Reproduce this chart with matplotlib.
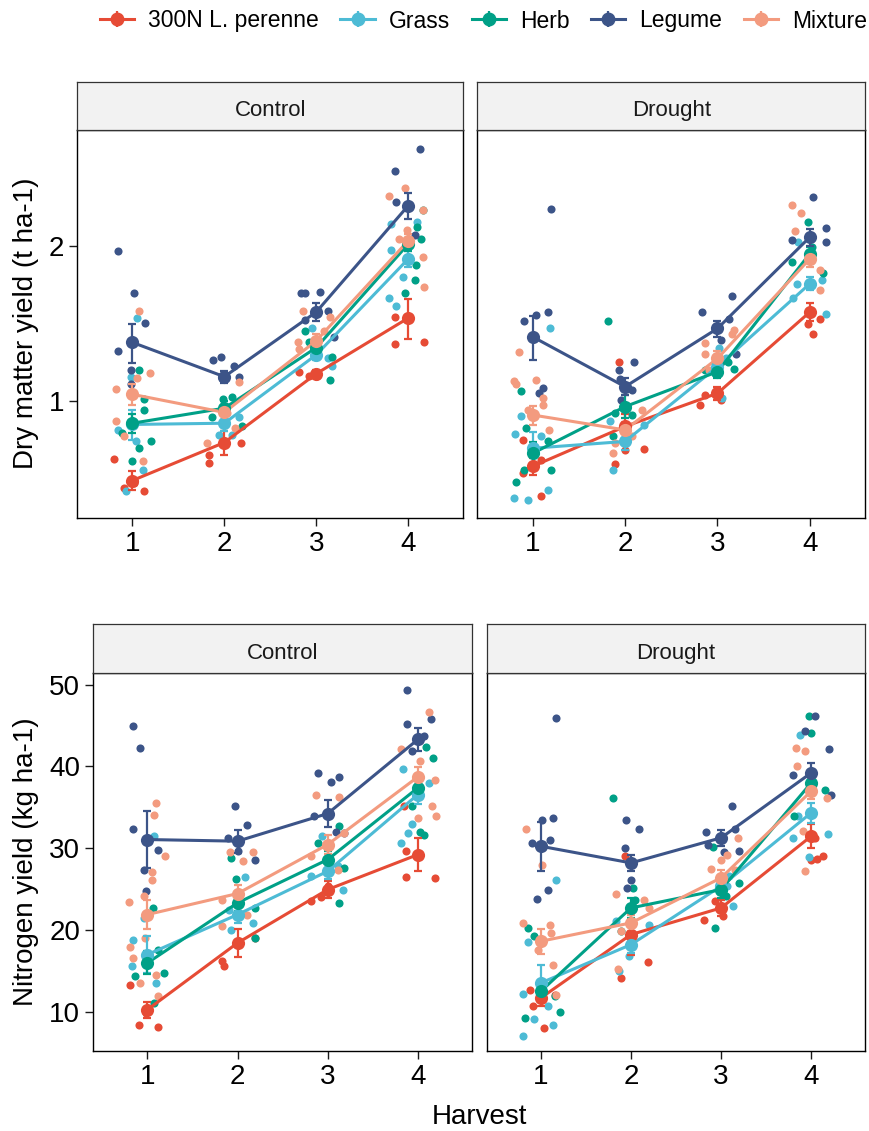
import matplotlib.pyplot as plt
from matplotlib.lines import Line2D
from matplotlib.legend_handler import HandlerTuple

plt.rcParams["font.family"] = ["Liberation Sans", "DejaVu Sans"]

GROUPS = ["300N L. perenne", "Grass", "Herb", "Legume", "Mixture"]
COLORS = {
    "300N L. perenne": "#E64B35",
    "Grass": "#4DBBD5",
    "Herb": "#00A087",
    "Legume": "#3C5488",
    "Mixture": "#F39B7F",
}
HARVESTS = [1, 2, 3, 4]

# ---- dry matter yield (t ha-1): treatment means and standard errors
DM_CONTROL_MEAN = {
    "300N L. perenne": [0.70, 0.83, 1.13, 1.45],
    "Grass": [0.90, 0.905, 1.23, 1.89],
    "Herb": [0.905, 0.968, 1.27, 2.02],
    "Legume": [1.30, 1.115, 1.49, 2.40],
    "Mixture": [1.03, 0.95, 1.31, 2.05],
}
DM_CONTROL_SE = {
    "300N L. perenne": [0.03, 0.045, 0.02, 0.13],
    "Grass": [0.06, 0.03, 0.03, 0.07],
    "Herb": [0.04, 0.03, 0.03, 0.06],
    "Legume": [0.115, 0.03, 0.06, 0.14],
    "Mixture": [0.05, 0.03, 0.04, 0.06],
}
DM_DROUGHT_MEAN = {
    "300N L. perenne": [0.746, 0.892, 1.035, 1.49],
    "Grass": [0.809, 0.834, 1.166, 1.692],
    "Herb": [0.791, 0.975, 1.14, 1.936],
    "Legume": [1.333, 1.066, 1.384, 2.085],
    "Mixture": [0.939, 0.878, 1.21, 1.892],
}
DM_DROUGHT_SE = {
    "300N L. perenne": [0.03, 0.05, 0.03, 0.06],
    "Grass": [0.06, 0.03, 0.03, 0.05],
    "Herb": [0.04, 0.05, 0.03, 0.06],
    "Legume": [0.13, 0.04, 0.05, 0.08],
    "Mixture": [0.04, 0.03, 0.04, 0.07],
}

# ---- nitrogen yield (kg ha-1): treatment means and standard errors
N_CONTROL_MEAN = {
    "300N L. perenne": [10.24, 18.41, 24.94, 29.22],
    "Grass": [16.98, 21.88, 27.18, 36.57],
    "Herb": [15.96, 23.31, 28.61, 37.39],
    "Legume": [31.06, 30.86, 34.24, 43.31],
    "Mixture": [21.88, 24.45, 30.45, 38.73],
}
N_CONTROL_SE = {
    "300N L. perenne": [1.0, 1.7, 1.0, 2.0],
    "Grass": [2.3, 1.0, 1.0, 1.2],
    "Herb": [1.4, 1.0, 1.0, 1.0],
    "Legume": [3.5, 1.4, 1.6, 1.4],
    "Mixture": [1.8, 1.0, 1.2, 1.2],
}
N_DROUGHT_MEAN = {
    "300N L. perenne": [11.67, 19.43, 22.69, 31.47],
    "Grass": [13.51, 18.20, 25.35, 34.33],
    "Herb": [12.49, 22.69, 24.94, 38.0],
    "Legume": [30.24, 28.20, 31.27, 39.22],
    "Mixture": [18.61, 20.86, 26.37, 36.98],
}
N_DROUGHT_SE = {
    "300N L. perenne": [1.0, 2.5, 1.0, 1.5],
    "Grass": [2.2, 1.0, 1.0, 1.2],
    "Herb": [1.2, 1.2, 1.0, 1.2],
    "Legume": [3.0, 1.0, 1.0, 1.2],
    "Mixture": [1.5, 1.0, 1.0, 1.0],
}

# ---- individual plots: per harvest, (jitter, value)
DM_CONTROL_PTS = {
    "300N L. perenne": [
        [(-0.20, 0.77), (-0.09, 0.677), (0.13, 0.667), (0.02, 0.692)],
        [(-0.17, 0.757), (-0.17, 0.785), (0.18, 0.828)],
        [(-0.19, 1.14), (-0.08, 1.12), (0.01, 1.12)],
        [(-0.14, 1.46), (0.17, 1.30), (-0.14, 1.29)]],
    "Grass": [
        [(0.05, 1.45), (-0.02, 1.115), (-0.16, 0.878), (0.04, 0.834), (0.11, 0.735), (-0.07, 0.667)],
        [(-0.06, 0.859), (0.16, 0.93), (0.08, 0.859)],
        [(-0.05, 1.39), (0.17, 1.17), (0.13, 1.21), (-0.01, 1.22)],
        [(-0.19, 2.21), (0.10, 2.23), (-0.21, 1.59), (-0.13, 1.53), (-0.06, 1.74), (-0.19, 1.965)]],
    "Herb": [
        [(0.07, 1.15), (0.13, 1.01), (0.13, 0.96), (0.20, 0.834), (0.07, 0.809), (0.0, 0.763), (-0.11, 0.865)],
        [(-0.01, 1.01), (0.08, 1.02), (0.19, 0.892), (-0.13, 0.932)],
        [(-0.12, 1.37), (-0.08, 1.30), (0.15, 1.10), (0.17, 1.22)],
        [(-0.03, 1.62), (0.07, 1.72), (0.08, 1.84), (0.14, 2.07), (0.10, 2.18), (0.16, 2.35)]],
    "Legume": [
        [(-0.16, 1.96), (0.02, 1.62), (0.14, 1.42), (-0.16, 1.25), (-0.02, 1.15), (-0.02, 1.08)],
        [(-0.12, 1.20), (-0.04, 1.22), (0.11, 1.17), (0.16, 1.115), (-0.03, 1.11)],
        [(-0.17, 1.62), (-0.12, 1.62), (0.04, 1.63), (-0.12, 1.44), (0.13, 1.50), (0.19, 1.33)],
        [(-0.14, 2.81), (0.13, 3.09), (-0.13, 2.44), (0.07, 2.10)]],
    "Mixture": [
        [(0.07, 1.50), (0.19, 1.135), (-0.18, 1.055), (-0.18, 0.912), (-0.09, 0.853), (0.11, 0.765), (0.05, 1.11)],
        [(-0.19, 0.83), (0.16, 1.09), (0.12, 0.885), (0.03, 0.946)],
        [(-0.14, 1.50), (-0.20, 1.30), (0.15, 1.46), (0.08, 1.37), (-0.19, 1.26)],
        [(-0.21, 2.51), (-0.03, 2.60), (0.16, 2.35), (0.17, 1.67), (0.16, 1.91), (-0.10, 2.07), (-0.01, 2.15)]],
}
DM_DROUGHT_PTS = {
    "300N L. perenne": [
        [(-0.11, 0.838), (-0.11, 0.724), (0.09, 0.652), (0.09, 0.768)],
        [(-0.07, 1.189), (0.20, 0.807), (-0.11, 0.753), (0.0, 0.803)],
        [(-0.19, 0.982), (-0.14, 1.027), (0.04, 1.004)],
        [(0.11, 1.443), (0.03, 1.353), (-0.02, 1.415)]],
    "Grass": [
        [(0.19, 1.39), (-0.13, 0.935), (-0.19, 0.863), (0.09, 0.855), (-0.20, 0.647), (-0.05, 0.640), (0.16, 0.672)],
        [(-0.16, 0.912), (-0.13, 0.735), (0.20, 0.896)],
        [(0.02, 1.266), (0.09, 1.21), (0.05, 1.012)],
        [(-0.13, 2.04), (0.18, 1.475), (-0.18, 1.59), (-0.14, 1.692), (0.13, 1.72)]],
    "Herb": [
        [(-0.13, 1.046), (-0.18, 0.695), (0.20, 0.735), (0.16, 0.834), (-0.07, 0.885), (-0.09, 0.735)],
        [(-0.19, 1.43), (-0.11, 0.946), (-0.13, 0.853), (0.07, 0.939)],
        [(-0.13, 1.149), (0.18, 1.154), (0.11, 1.189)],
        [(-0.02, 2.23), (0.14, 1.777), (-0.19, 1.865), (0.02, 1.994)]],
    "Legume": [
        [(-0.09, 1.432), (0.04, 1.47), (0.16, 1.49), (0.11, 1.058), (0.07, 1.035), (0.20, 2.36)],
        [(-0.07, 1.149), (0.10, 1.189), (-0.05, 1.102), (0.07, 1.05), (-0.04, 1.004)],
        [(-0.17, 1.49), (0.16, 1.60), (0.12, 1.443), (-0.02, 1.39), (0.20, 1.234), (0.04, 1.314)],
        [(0.03, 2.49), (0.18, 2.17), (0.18, 2.04), (-0.19, 2.06)]],
    "Mixture": [
        [(-0.15, 1.247), (-0.20, 1.095), (0.04, 1.098), (0.11, 1.012), (0.11, 0.982), (-0.18, 1.08), (0.18, 0.878), (-0.05, 0.961)],
        [(-0.13, 0.791), (-0.11, 0.828), (0.18, 0.961), (0.07, 0.853)],
        [(0.18, 1.373), (-0.13, 1.294), (-0.09, 1.149), (0.16, 1.353), (-0.13, 1.237)],
        [(-0.19, 2.41), (-0.10, 2.32), (-0.16, 2.14), (0.11, 1.643), (0.11, 1.797)]],
}
N_CONTROL_PTS = {
    "300N L. perenne": [
        [(-0.19, 13.31), (-0.09, 8.41), (0.12, 8.12), (-0.01, 9.84)],
        [(-0.17, 16.2), (-0.15, 15.6), (0.19, 19.02)],
        [(-0.19, 23.59), (-0.07, 24.04), (0.0, 25.35)],
        [(-0.13, 29.63), (0.19, 26.37), (-0.13, 26.49), (-0.15, 35.14)]],
    "Grass": [
        [(0.07, 31.47), (-0.04, 21.47), (-0.17, 15.63), (0.10, 13.51), (-0.16, 18.73)],
        [(0.08, 26.49), (0.17, 20.86), (-0.07, 20.04), (-0.09, 22.49)],
        [(-0.06, 31.47), (-0.19, 26.57), (0.17, 24.94), (0.11, 27.80)],
        [(-0.17, 39.71), (0.12, 38.0), (-0.06, 33.02), (-0.19, 30.65), (-0.11, 31.80)]],
    "Herb": [
        [(0.06, 22.69), (0.18, 14.73), (-0.14, 14.41), (0.12, 17.59), (0.07, 11.06)],
        [(-0.02, 26.24), (0.19, 22.69), (0.19, 19.02), (-0.07, 28.82)],
        [(-0.11, 30.65), (0.18, 27.59), (0.13, 23.31), (0.13, 32.69)],
        [(0.09, 42.41), (0.17, 41.06), (0.02, 31.96), (0.07, 31.67), (-0.07, 35.14)]],
    "Legume": [
        [(-0.16, 44.94), (-0.08, 42.20), (-0.16, 32.37), (0.12, 29.84), (-0.04, 27.39), (-0.01, 24.73)],
        [(-0.03, 35.22), (0.11, 32.82), (-0.11, 31.27), (0.0, 29.63), (0.19, 28.53)],
        [(-0.11, 39.22), (0.04, 38.08), (0.13, 38.73), (-0.15, 33.92), (0.09, 31.96), (0.18, 31.88)],
        [(-0.12, 49.35), (0.14, 45.76), (-0.12, 45.14), (0.07, 43.71), (-0.06, 41.88)]],
    "Mixture": [
        [(0.09, 35.47), (0.07, 34.04), (0.20, 29.02), (0.05, 27.10), (0.05, 26.16), (-0.20, 23.39), (-0.04, 24.12),
         (-0.19, 17.92), (-0.16, 16.57), (-0.08, 13.51), (0.12, 11.88), (0.09, 14.53), (-0.03, 19.02)],
        [(-0.08, 29.55), (0.06, 28.41), (0.17, 29.51), (-0.17, 23.71), (-0.17, 20.45), (0.11, 21.88)],
        [(-0.13, 36.49), (0.13, 36.29), (-0.19, 29.02), (0.18, 31.80), (0.11, 27.39)],
        [(0.12, 46.69), (-0.19, 42.08), (0.02, 40.65), (0.19, 38.29), (0.20, 33.92), (0.16, 35.14), (0.0, 33.71)]],
}
N_DROUGHT_PTS = {
    "300N L. perenne": [
        [(-0.12, 12.69), (0.04, 8.0), (-0.09, 10.65), (0.16, 12.08)],
        [(-0.07, 29.02), (0.19, 16.04), (-0.11, 14.12), (0.0, 19.22)],
        [(-0.19, 21.18), (-0.07, 23.51), (0.02, 21.67)],
        [(0.06, 28.73), (0.13, 29.02), (0.04, 31.27), (0.0, 28.61)]],
    "Grass": [
        [(0.17, 26.16), (-0.14, 18.49), (-0.20, 12.20), (-0.07, 9.10), (-0.20, 7.06), (0.14, 8.41), (0.08, 10.73)],
        [(-0.17, 21.06), (0.20, 20.65), (-0.13, 14.94), (-0.02, 16.78)],
        [(0.07, 25.35), (0.13, 22.90), (0.09, 26.57)],
        [(-0.12, 43.80), (0.19, 31.76), (-0.20, 31.27), (-0.02, 28.94), (-0.15, 33.92)]],
    "Herb": [
        [(-0.14, 20.24), (-0.18, 9.22), (0.21, 9.92), (0.16, 11.88), (-0.07, 19.22)],
        [(-0.20, 36.16), (0.02, 25.14), (0.04, 23.71), (-0.11, 19.84)],
        [(-0.09, 30.16), (0.20, 25.76), (-0.07, 20.24), (0.06, 24.12)],
        [(-0.02, 46.16), (0.0, 44.04), (0.15, 37.18), (-0.19, 33.92)]],
    "Legume": [
        [(0.17, 45.96), (0.14, 33.71), (0.01, 33.51), (0.10, 31.06), (-0.10, 30.65), (0.08, 24.86), (-0.04, 23.80)],
        [(-0.06, 33.43), (0.09, 32.29), (-0.07, 30.04), (0.0, 26.16), (-0.04, 25.14)],
        [(0.12, 35.22), (-0.17, 31.96), (0.15, 32.29), (0.20, 29.71), (0.03, 29.51), (-0.15, 30.45)],
        [(0.04, 46.16), (0.20, 42.08), (-0.20, 38.94), (0.22, 36.45), (-0.07, 44.33)]],
    "Mixture": [
        [(-0.16, 32.29), (0.01, 28.0), (-0.20, 20.86), (0.10, 20.65), (0.11, 19.63), (0.14, 15.76), (-0.03, 17.59), (0.17, 12.08)],
        [(-0.17, 24.45), (0.15, 23.71), (0.20, 22.69), (-0.14, 15.22), (-0.11, 19.84)],
        [(0.19, 31.27), (0.0, 28.61), (-0.11, 27.51), (0.07, 29.22), (0.15, 27.39)],
        [(-0.17, 42.29), (-0.07, 41.88), (-0.16, 40.04), (-0.07, 27.18), (0.17, 36.16), (-0.09, 32.08)]],
}

W, H = 870, 1131
fig = plt.figure(figsize=(W / 100, H / 100), dpi=100)


def rect(x0, y0, x1, y1):
    # pixel box (top-left origin) -> figure fraction
    return [x0 / W, 1 - y1 / H, (x1 - x0) / W, (y1 - y0) / H]


def draw_panel(box, strip_top, title, pts, means, ses, log, ylim, yticks, show_y):
    x0, y0, x1, y1 = box
    ax = fig.add_axes(rect(x0, y0, x1, y1))
    st = fig.add_axes(rect(x0, strip_top, x1, y0))
    st.set_facecolor("#F2F2F2")
    st.set_xticks([])
    st.set_yticks([])
    for s in st.spines.values():
        s.set_linewidth(0.9)
        s.set_color("#333333")
    st.text(0.5, 0.45, title, ha="center", va="center_baseline", fontsize=16, color="#1A1A1A",
            transform=st.transAxes)

    for g in GROUPS:
        xs = [h + off for h, harv in zip(HARVESTS, pts[g]) for off, v in harv]
        ys = [v for harv in pts[g] for off, v in harv]
        ax.scatter(xs, ys, s=34, color=COLORS[g], linewidths=0, zorder=2)
    for g in GROUPS:
        ax.plot(HARVESTS, means[g], color=COLORS[g], lw=2.2, zorder=3, solid_capstyle="butt")
    for g in GROUPS:
        ax.errorbar(HARVESTS, means[g], yerr=ses[g], fmt="none", ecolor=COLORS[g],
                    elinewidth=1.6, capsize=2.9, capthick=1.6, zorder=4)
    for g in GROUPS:
        ax.scatter(HARVESTS, means[g], s=90, color=COLORS[g], linewidths=0, zorder=5)

    if log:
        ax.set_yscale("log")
    ax.set_ylim(*ylim)
    ax.set_xlim(0.4, 4.6)
    ax.set_xticks(HARVESTS)
    ax.set_xticklabels([str(h) for h in HARVESTS])
    ax.minorticks_off()
    if show_y:
        ax.set_yticks(yticks)
        ax.set_yticklabels([str(t) for t in yticks])
    else:
        ax.set_yticks([])
    ax.tick_params(direction="out", length=5.5, width=1.0, labelsize=20, pad=4, colors="#1A1A1A")
    ax.tick_params(axis="both", labelcolor="black")
    for s in ax.spines.values():
        s.set_linewidth(1.0)
        s.set_color("black")
    ax.set_facecolor("white")
    return ax


dm_ylim = (0.593, 3.37)
n_ylim = (5.22, 51.5)

draw_panel((77.3, 130, 463.3, 517.5), 82, "Control", DM_CONTROL_PTS, DM_CONTROL_MEAN,
           DM_CONTROL_SE, True, dm_ylim, [1, 2], True)
draw_panel((477.3, 130, 865.3, 517.5), 82, "Drought", DM_DROUGHT_PTS, DM_DROUGHT_MEAN,
           DM_DROUGHT_SE, True, dm_ylim, [1, 2], False)
draw_panel((93.3, 672.5, 472, 1050.7), 624.3, "Control", N_CONTROL_PTS, N_CONTROL_MEAN,
           N_CONTROL_SE, False, n_ylim, [10, 20, 30, 40, 50], True)
draw_panel((486.7, 672.5, 865.3, 1050.7), 624.3, "Drought", N_DROUGHT_PTS, N_DROUGHT_MEAN,
           N_DROUGHT_SE, False, n_ylim, [10, 20, 30, 40, 50], False)

fig.text(26 / W, 1 - 323.7 / H, "Dry matter yield (t ha-1)", rotation=90,
         ha="center", va="center", fontsize=20)
fig.text(26 / W, 1 - 861.6 / H, "Nitrogen yield (kg ha-1)", rotation=90,
         ha="center", va="center", fontsize=20)
fig.text(479 / W, 1 - 1130 / H, "Harvest", ha="center", va="bottom", fontsize=20)

handles = []
for g in GROUPS:
    c = COLORS[g]
    handles.append((
        Line2D([], [], color=c, lw=2.2),
        Line2D([], [], color=c, marker="|", ms=11, mew=1.6, ls="none"),
        Line2D([], [], color=c, marker="o", ms=9, ls="none"),
    ))
fig.legend(handles, GROUPS, handler_map={tuple: HandlerTuple(ndivide=1)},
           loc="center right", bbox_to_anchor=(867 / W, 1 - 21 / H), ncol=5,
           frameon=False, fontsize=16.5, handlelength=1.5, handletextpad=0.6,
           columnspacing=0.95, borderpad=0, borderaxespad=0)

fig.savefig("out.png", dpi=100)
plt.close(fig)
